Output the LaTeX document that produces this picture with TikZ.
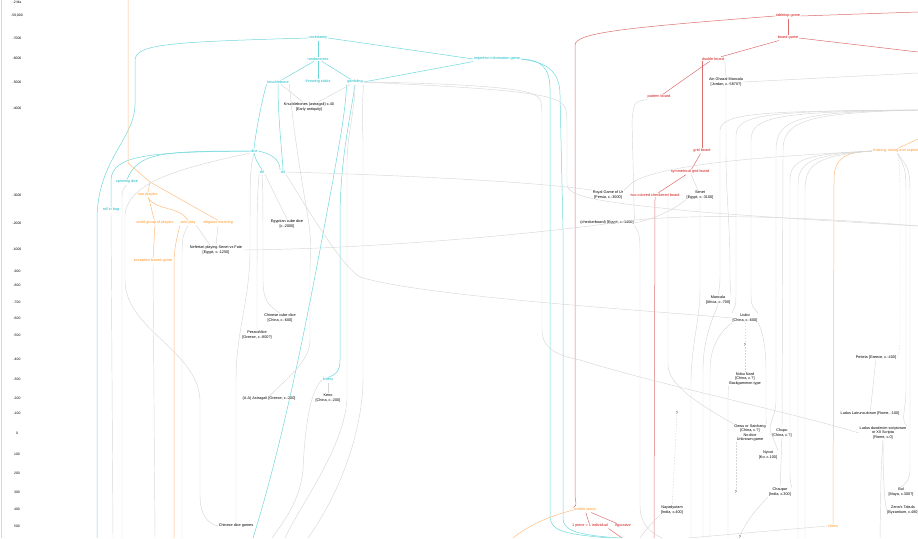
\documentclass[tikz,border=0pt]{standalone}
\usepackage{fontspec}
\setmainfont{Liberation Sans}
\usepackage{tikz}
\usetikzlibrary{calc}
\definecolor{textcyan}{RGB}{20,185,195}
\definecolor{linecyan}{RGB}{110,215,220}
\definecolor{textred}{RGB}{210,20,20}
\definecolor{linered}{RGB}{220,110,110}
\definecolor{textorange}{RGB}{255,150,40}
\definecolor{lineorange}{RGB}{255,190,130}
\definecolor{linegrey}{RGB}{215,215,215}
\tikzset{
  every node/.style={font=\fontsize{3.8}{4.4}\selectfont,inner sep=0.6pt,align=center},
  cyannode/.style={text=textcyan},
  rednode/.style={text=textred},
  orangenode/.style={text=textorange},
  gamenode/.style={text=black},
  yearlabel/.style={text=black,font=\fontsize{3.4}{4}\selectfont},
  cyanedge/.style={draw=linecyan,line width=0.5pt},
  rededge/.style={draw=linered,line width=0.5pt},
  orangeedge/.style={draw=lineorange,line width=0.5pt},
  greyedge/.style={draw=linegrey,line width=0.45pt},
  dashedge/.style={draw=linegrey,line width=0.45pt,dashed,dash pattern=on 1.5pt off 1.5pt}
}
\begin{document}
\begin{tikzpicture}[x=1pt,y=-1pt]
  \useasboundingbox (0,0) rectangle (918,538);
  \draw[linegrey,line width=0.8pt] (1,0) -- (1,538);
  % time axis
  \foreach \yy/\t [count=\i] in {2/-2 Ma,16/{-50,000},38/-7000,58/-6000,82/-5000,108/-4000,
      195/-3000,223/-2000,249/-1000,271/-900,285/-800,302/-700,318/-600,335/-500,359/-400,
      379/-300,398/-200,413/-100,433/0,454/100,473/200,492/300,509/400,526/500}
    \node[yearlabel] (year\i) at (17,\yy) {\t};

  % concepts
  \node[cyannode] (unc) at (318,38) {uncertainty};
  \node[cyannode] (rand) at (318,59) {randomness};
  \node[cyannode] (knuck) at (278,82) {knucklebone};
  \node[cyannode] (sticks) at (318,82) {throwing sticks};
  \node[cyannode] (gamb) at (355,82) {gambling};
  \node[cyannode] (imperf) at (497,59) {imperfect information game};
  \node[cyannode] (dice) at (254,151) {dice};
  \node[cyannode] (dsix) at (262,172) {d6};
  \node[cyannode] (dfour) at (283,172) {d4};
  \node[cyannode] (spin) at (127,182) {spinning dice};
  \node[cyannode] (bag) at (111,210) {roll in bag};
  \node[cyannode] (lottery) at (328,380) {lottery};

  \node[orangenode] (twopl) at (148,195) {two players};
  \node[orangenode] (small) at (155,223) {small group of players};
  \node[orangenode] (solo) at (188,223) {solo play};
  \node[orangenode] (relig) at (218,223) {religious meaning};
  \node[orangenode] (except) at (153,261) {exception based game};
  \node[orangenode,anchor=west] (chasing) at (872,151) {chasing, racing and capturing};
  \node[orangenode] (mobile) at (585,510) {mobile piece};
  \node[orangenode] (chess) at (833,526) {chess};

  \node[rednode] (tabletop) at (788,16) {tabletop game};
  \node[rednode] (board) at (788,38) {board game};
  \node[rednode] (double) at (713,59) {double board};
  \node[rednode] (pattern) at (659,97) {pattern board};
  \node[rednode] (grid) at (702,151) {grid board};
  \node[rednode] (spread) at (690,172) {symmetrical grid board};
  \node[rednode] (checker) at (655,195) {two-colored checkered board};
  \node[rednode] (onepiece) at (590,526) {1 piece = 1 individual};
  \node[rednode] (figur) at (623,526) {figurative};

  % games
  \node[gamenode] (kastr) at (309,107) {Knucklebones (astragali) c.40\\{}[Early antiquity]};
  \node[gamenode] (ghazal) at (726,82) {Ain Ghazal Mancala\\{}[Jordan, c.-5870?]};
  \node[gamenode] (ur) at (608,195) {Royal Game of Ur\\{}[Persia, c.-3000]};
  \node[gamenode] (senet) at (700,195) {Senet\\{}[Egypt, c.-3100]};
  \node[gamenode] (checkerbd) at (607,223) {(checkerboard) [Egypt, c.-1400]};
  \node[gamenode] (egcube) at (287,224) {Egyptian cube dice\\{}[c.-2000]};
  \node[gamenode] (nefer) at (216,250) {Nefertari playing Senet vs Fate\\{}[Egypt, c.-1250]};
  \node[gamenode] (chcube) at (280,318) {Chinese cube dice\\{}[China, c.-600]};
  \node[gamenode] (pessoi) at (257,335) {Pessoi/dice\\{}[Greece, c.-800?]};
  \node[gamenode] (astrag) at (269,399) {(A-A) Astragali [Greece, c.-200]};
  \node[gamenode] (keno) at (328,398) {Keno\\{}[China, c.-200]};
  \node[gamenode] (chdice) at (236,526) {Chinese dice games};
  \node[gamenode] (mancala) at (718,300) {Mancala\\{}[Africa, c.-700]};
  \node[gamenode] (liubo) at (745,318) {Liubo\\{}[China, c.-600]};
  \node[gamenode] (q1) at (745,345) {?};
  \node[gamenode] (nard) at (745,379) {Nobu Nard\\{}[China, c.?]\\Backgammon type};
  \node[gamenode] (petteia) at (876,358) {Petteia [Greece, c.-400]};
  \node[gamenode] (latrun) at (870,414) {Ludus Latrunculorum [Rome, -100]};
  \node[gamenode] (duodec) at (883,433) {Ludus duodecim scriptorum\\or XII Scripta\\{}[Rome, c.0]};
  \node[gamenode] (gewu) at (750,433) {Gewu or Saichang\\{}[China, c.?]\\No dice\\Unknown game};
  \node[gamenode] (chupu) at (782,433) {Chupu\\{}[China, c.?]};
  \node[gamenode] (nyout) at (768,455) {Nyout\\{}[Ko, c.100]};
  \node[gamenode] (q2) at (736,492) {?};
  \node[gamenode] (chaupar) at (780,492) {Chaupar\\{}[India, c.300]};
  \node[gamenode] (q3) at (677,413) {?};
  \node[gamenode] (naya) at (672,510) {Nayadyutam\\{}[India, c.400]};
  \node[gamenode] (bul) at (901,492) {Bul\\{}[Maya, c.300?]};
  \node[gamenode] (zeno) at (903,510) {Zeno's Tabula\\{}[Byzantium, c.480]};
  \node[gamenode] (q4) at (740,537) {?};

  % loose ends
  \coordinate (orangetop) at (128,0);
  \coordinate (obend) at (150,182);
  \coordinate (rightin) at (918,110);

  % cyan links
  \draw[cyanedge] (unc) -- (rand);
  \draw[cyanedge] (unc.east) -- (imperf.west);
  \draw[cyanedge] (rand) -- (knuck);
  \draw[cyanedge] (rand) -- (sticks);
  \draw[cyanedge] (rand) -- (gamb);
  \draw[cyanedge] (gamb.east) -- (imperf.south west);
  \draw[cyanedge] (unc.west) .. controls (170,42) and (136,44) .. (135,60) -- (135,105)
    .. controls (134,140) and (97,160) .. (97,220) -- (97,538);
  \draw[cyanedge] (knuck.south west) .. controls (262,100) and (256,130) .. (dice.north);
  \draw[cyanedge] (knuck.south) .. controls (278,120) and (282,150) .. (dfour.north);
  \draw[cyanedge] (dice.south) .. controls (256,160) .. (dsix.north);
  \draw[cyanedge] (dice.east) .. controls (272,154) and (280,160) .. (dfour.north west);
  \draw[cyanedge] (dice.west) .. controls (160,151) and (138,153) .. (spin.north);
  \draw[cyanedge] (dice.west) .. controls (150,152) and (112,155) .. (111,180) -- (bag.north);
  \draw[cyanedge] (gamb.south) .. controls (350,120) and (340,160) .. (340,220) -- (340,360)
    .. controls (340,372) and (335,375) .. (lottery.north);
  \draw[cyanedge] (gamb.south west) .. controls (346,110) and (338,150) .. (333,180)
    .. controls (318,260) and (290,420) .. (253,538);
  \draw[cyanedge] (imperf.east) .. controls (540,60) and (550,66) .. (550,90) -- (550,515)
    .. controls (550,530) and (560,534) .. (610,538);
  \draw[cyanedge] (imperf.east) .. controls (545,62) and (560,70) .. (560,95) -- (563,230)
    -- (563,518) .. controls (563,530) and (575,535) .. (620,538);

  % red links
  \draw[rededge] (tabletop) -- (board);
  \draw[rededge] (tabletop.west) .. controls (620,28) and (576,33) .. (575,45) -- (575,495)
    .. controls (575,502) and (578,505) .. (mobile.north west);
  \draw[rededge] (tabletop.east) -- (918,12);
  \draw[rededge] (board.east) -- (918,52);
  \draw[rededge] (board) -- (double);
  \draw[rededge] (double) -- (pattern);
  \draw[rededge] (grid.north |- double.south) -- (grid.north);
  \draw[rededge] (grid) -- (spread);
  \draw[rededge] (spread) -- (checker);
  \draw[rededge] (checker.south) -- (654,538);
  \draw[rededge] (mobile) -- (onepiece);
  \draw[rededge] (mobile) -- (figur);
  \draw[rededge] (onepiece.south east) -- (622,538);

  % orange links
  \draw[orangeedge] (orangetop) -- (128,163) -- (obend) -- (relig.north);
  \draw[orangeedge] (obend) -- (twopl.north);
  \draw[orangeedge] (twopl) -- (small);
  \draw[orangeedge] (twopl.south) .. controls (158,212) and (178,205) .. (solo.north);
  \draw[orangeedge] (small) -- (except);
  \draw[orangeedge] (solo.south west) .. controls (178,235) and (174,245) .. (174,265) -- (174,538);
  \draw[orangeedge] (chasing.west) .. controls (845,152) and (834,158) .. (834,180) -- (chess.north);
  \draw[orangeedge] (chasing.north) -- (918,139);
  \draw[orangeedge] (mobile.west) .. controls (545,517) and (525,528) .. (513,538);

  % grey links, left half
  \draw[greyedge] (knuck) -- (kastr);
  \draw[greyedge] (gamb) -- (kastr);
  \draw[greyedge] (gamb.east) .. controls (430,83) and (520,86) .. (535,95) .. controls (541,99) .. (542,112)
    -- (542,330) .. controls (542,350) and (560,356) .. (580,360) .. controls (660,385) and (790,412) .. (duodec.west);
  \draw[greyedge] (gamb.east) .. controls (440,86) and (545,90) .. (560,102) .. controls (566,107) .. (567,120)
    -- (567,185) .. controls (568,198) and (610,203) .. (690,211) .. controls (760,217) and (850,222) .. (918,226);
  \draw[greyedge] (nefer.east) .. controls (360,249) and (520,236) .. (620,222)
    .. controls (680,213) and (800,216) .. (918,226);
  \draw[greyedge] (gamb.south east) .. controls (362,110) .. (363,140) -- (363,380)
    .. controls (362,440) and (335,500) .. (308,538);
  \draw[greyedge] (gamb.south) .. controls (355,110) and (348,130) .. (347,160) -- (347,400)
    .. controls (343,450) and (300,505) .. (285,538);
  \draw[greyedge] (lottery) -- (keno);
  \draw[greyedge] (lottery.west) .. controls (312,388) and (305,420) .. (303,470)
    .. controls (300,500) and (285,520) .. (272,538);
  \draw[greyedge] (knuck.south east) .. controls (292,120) and (300,170) .. (305,200)
    .. controls (311,235) .. (310,270) -- (310,340) .. controls (310,362) and (285,380) .. (astrag.north);
  \draw[greyedge] (dfour.south east) .. controls (320,230) and (345,268) .. (360,277)
    .. controls (420,296) and (640,310) .. (liubo.west);
  \draw[greyedge] (dsix.south east) -- (egcube.north);
  \draw[greyedge] (dsix.south) .. controls (263,190) .. (263,280) .. controls (263,300) and (268,305) .. (chcube.north);
  \draw[greyedge] (dsix.south west) .. controls (257,200) .. (pessoi.north);
  \draw[greyedge] (dice.south) .. controls (250,170) .. (250,250) .. controls (250,300) and (236,330) .. (236,380)
    -- (chdice.north);
  \draw[greyedge] (dice.south west) .. controls (180,168) and (128,182) .. (125,215) -- (125,280)
    .. controls (125,330) and (198,350) .. (200,400) -- (200,495) .. controls (200,515) and (208,524) .. (chdice.west);
  \draw[greyedge] (spin.south) .. controls (122,190) .. (122,200) -- (122,538);
  \draw[greyedge] (bag.south) -- (113,538);
  \draw[greyedge] (except.south) -- (155,538);
  \draw[greyedge] (solo.south) .. controls (183,235) .. (182,250) -- (182,538);
  \draw[greyedge] (solo.south east) -- ([xshift=-6pt]nefer.north);
  \draw[greyedge] (relig.south) -- (nefer.north);
  \draw[greyedge] (dfour.east) .. controls (400,175) and (540,182) .. (ur.north west);
  \draw[greyedge] (chasing.west) .. controls (800,155) and (700,160) .. (650,175) .. controls (635,180) .. (ur.north east);
  \draw[greyedge] (pattern.south west) .. controls (634,102) .. (632,120) -- (checkerbd.north east);
  \draw[greyedge] (checkerbd.east) .. controls (660,218) and (680,205) .. (senet.south west);
  \draw[greyedge] (checkerbd.south east) .. controls (640,235) .. (640,260) -- (640,505)
    .. controls (640,525) and (650,532) .. (662,538);
  \draw[greyedge] (spread) -- (senet);
  \draw[greyedge] ([xshift=13pt]checker.south) .. controls (668,205) .. (668,220) -- (668,365)
    .. controls (668,385) and (700,405) .. (gewu.north west);
  \draw[dashedge] (q3) -- (naya);
  \draw[greyedge] (naya.south west) .. controls (655,520) and (645,530) .. (640,538);

  % grey links, right half
  \draw[greyedge] (ghazal.east) -- (918,73);
  \draw[greyedge] (double.south east) -- (ghazal.north);
  \draw[greyedge] (ghazal.south) -- (726,150) .. controls (726,200) and (730,220) .. (730,270)
    .. controls (730,285) .. (mancala.north east);
  \draw[greyedge] (rightin) .. controls (760,111) and (722,113) .. (720,130) -- (720,270)
    .. controls (720,285) .. (mancala.north);
  \draw[greyedge] (rightin) .. controls (770,111) and (737,114) .. (736,135) -- (736,290)
    .. controls (736,305) .. (liubo.north west);
  \draw[greyedge] (rightin) .. controls (780,112) and (751,116) .. (751,140) -- (751,290)
    .. controls (751,305) .. (liubo.north east);
  \draw[greyedge] (rightin) .. controls (800,112) and (776,118) .. (776,150) -- (776,400)
    .. controls (776,415) and (770,420) .. (770,430) -- (nyout.north east);
  \draw[greyedge] (rightin) .. controls (810,113) and (783,120) .. (783,150) -- (chupu.north);
  \draw[greyedge] (chasing.west) .. controls (810,154) and (790,158) .. (790,180) -- (790,470)
    .. controls (790,480) .. (chaupar.north east);
  \draw[greyedge] (chasing.west) .. controls (815,155) and (798,160) .. (798,185) -- (798,538);
  \draw[greyedge] (chasing.west) .. controls (820,156) and (805,162) .. (805,190) -- (805,538);
  \draw[dashedge] (chasing.south) .. controls (900,170) .. (900,200) -- (900,340) .. controls (900,350) .. (petteia.east);
  \draw[greyedge] (chasing.south) .. controls (906,170) .. (906,200) -- (906,390)
    .. controls (906,410) and (900,420) .. (duodec.north east);
  \draw[greyedge] (chasing.south) .. controls (910,170) .. (910,200) -- (910,470)
    .. controls (910,480) and (905,484) .. (bul.north);
  \draw[greyedge] (petteia) -- (latrun);
  \draw[greyedge] (duodec.south) .. controls (883,470) and (884,500) .. (zeno.west);
  \draw[greyedge] (duodec.south) .. controls (881,470) .. (880,538);
  \draw[greyedge] (senet.south) -- (700,290) .. controls (700,320) and (692,340) .. (691,380) -- (691,538);
  \draw[greyedge] (mancala.south) .. controls (712,320) and (703,340) .. (703,370) -- (703,538);
  \draw[greyedge] (liubo.south west) .. controls (722,330) and (710,345) .. (710,370) -- (710,538);
  \draw[dashedge] (liubo) -- (q1);
  \draw[dashedge] (q1) -- (nard);
  \draw[greyedge] (liubo.south east) .. controls (762,330) and (766,345) .. (766,370) -- (766,415)
    .. controls (766,422) .. (gewu.north east);
  \draw[greyedge] (nard.south west) .. controls (728,392) .. (728,410) -- (728,538);
  \draw[dashedge] ([xshift=-14pt]gewu.south) -- (q2);
  \draw[greyedge] (chupu) -- (chaupar);
  \draw[greyedge] (chaupar.south west) .. controls (760,505) and (745,522) .. (q4);
  \draw[greyedge] (chess.west) -- (688,538);
\end{tikzpicture}
\end{document}
